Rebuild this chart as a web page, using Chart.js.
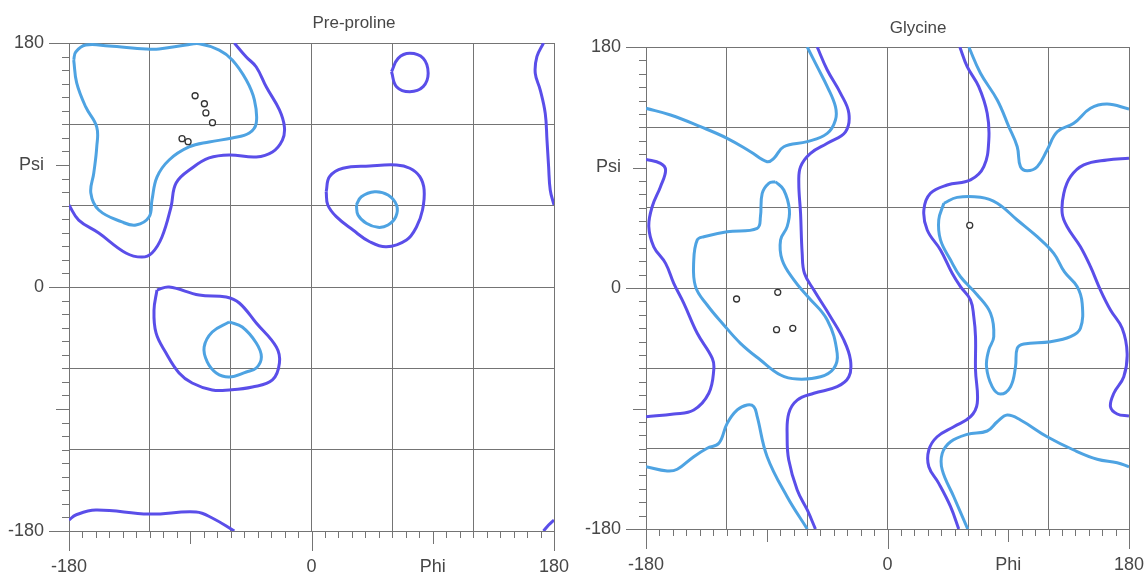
<!DOCTYPE html>
<html>
<head>
<meta charset="utf-8">
<script src="https://cdn.jsdelivr.net/npm/chart.js@4/dist/chart.umd.min.js"></script>
<style>
  body { margin: 0; background: #fff; }
  #wrap { display: flex; width: 1145px; height: 572px; }
  .panel { position: relative; height: 572px; }
</style>
</head>
<body>
<div id="wrap">
  <div class="panel" style="width:572px"><canvas id="preChart"></canvas></div>
  <div class="panel" style="width:573px"><canvas id="glyChart"></canvas></div>
</div>
<script>
// Axis labels (phi / psi)
const labelValues = [-180, 0, 90, 180];
const xLabelText = ["-180", "0", "Phi", "180"];
const yLabelText = ["-180", "0", "Psi", "180"];

// Colours
const outerColor = "#5a4ee9";
const innerColor = "#4ea3e2";
const gridColor = "#747474";
const textColor = "#474747";

// ---- Pre-proline contours, [phi, psi] ----
const preInnerBeta = [[-176.5,167.5],[-175,173.4],[-167.6,178.5],[-150.4,177.8],[-122.9,175.6],[-113.2,175.6],[-93.1,178.5],[-83.4,179.5],[-68.5,174.8],[-58.8,167.5],[-48.4,152.7],[-42.4,138],[-41,121],[-46.2,113.6],[-58.8,109.9],[-76,107],[-90.9,103.3],[-105.7,93.7],[-114.7,81.1],[-118.4,64.2],[-120.6,51.6],[-130.3,45.7],[-140.7,48],[-157.9,56.8],[-163.8,69.3],[-161.6,84.1],[-159.4,103.3],[-159.4,118],[-167.6,132.8],[-174.3,150.5],[-176.5,167.5]];
const preOuterBeta = [[-180,60.5],[-172.8,49.4],[-157.9,39.8],[-137.8,25.1],[-125.9,22.1],[-118.4,25.1],[-111,36.9],[-104.3,59],[-100.5,76.7],[-88.6,87.8],[-76,95.2],[-61.1,97.4],[-41,95.9],[-29,99.6],[-21.6,108.4],[-20.1,118],[-23.8,130.6],[-33.5,147.5],[-41,162.3],[-48.4,169.7],[-57.3,180]];
const preOuterBottom = [[-180,-171.9],[-175,-168.2],[-160.1,-164.5],[-120.6,-167.5],[-85.6,-166],[-73.7,-170.4],[-57.3,-180]];
const preOuterAlpha = [[-114.7,-2.2],[-105.7,0],[-83.4,-5.9],[-63.3,-7.4],[-53.6,-11.8],[-41,-26.6],[-26.1,-44.3],[-23.8,-56.1],[-29,-68.6],[-43.9,-73.8],[-61.1,-76],[-73.7,-76],[-88.6,-70.8],[-98.3,-63.4],[-108,-48.7],[-115.4,-33.9],[-116.9,-17],[-114.7,-2.2]];
const preInnerAlpha = [[-61.1,-25.8],[-51.4,-29.5],[-41,-41.3],[-37.2,-51.6],[-41,-59.8],[-48.4,-62.7],[-61.1,-66.4],[-70.7,-63.4],[-77.4,-55.3],[-79.7,-44.3],[-73.7,-33.2],[-61.1,-25.8]];
const preOuterLeft = [[10.9,70.3],[13.4,81.4],[23.3,87.6],[43.2,89.3],[63.1,90],[73,87.6],[80.4,81.4],[83.6,71.6],[82.4,56.8],[78,44.5],[70.5,34.7],[55.6,29.7],[43.2,33.4],[30.8,42],[18.4,51.9],[12.1,60.5],[10.9,70.3]];
const preInnerLeft = [[33.3,60.5],[37,66.6],[46.9,70.3],[56.8,67.9],[63.1,60.5],[62.6,51.9],[56.8,45.7],[49.4,44],[40.7,47],[34.5,53.1],[33.3,60.5]];
const preOuterSmall = [[59.4,158.8],[64.3,168.7],[73,172.4],[82.9,168.7],[86.6,157.6],[82.9,147.8],[73,144.1],[63.1,147.8],[59.4,158.8]];
const preOuterEdgeTop = [[172.2,180],[167.3,169.9],[166.1,157.6],[169.8,145.3],[173.5,128.1],[174.8,108.4],[176,88.7],[177.2,71.6],[180,60.5]];
const preOuterEdgeBottom = [[172.2,-180],[176,-175.6],[180,-171.9]];
const prePhi = [-86.4, -79.5, -78.4, -73.5, -96.1, -91.6];
const prePsi = [141.1, 135.2, 128.4, 121.2, 109.4, 107.2];

// ---- Glycine contours, [phi, psi] ----
const glyInnerTopLeft = [[-180,134.2],[-161.7,129.2],[-139.4,120.5],[-119.5,111.8],[-102.1,101.8],[-89.7,94.3],[-84.7,96.9],[-77.3,105.5],[-59.8,109.3],[-44.9,115.5],[-38.8,125.5],[-38.8,135.4],[-44.9,150.4],[-52.4,165.3],[-59.8,180]];
const glyInnerBottomLeft = [[-59.8,-180],[-74.8,-155.9],[-89.7,-126],[-97.1,-96.1],[-99.6,-88.7],[-104.6,-87.4],[-112,-91.1],[-119.5,-101.1],[-125.7,-116],[-134.4,-119.7],[-144.4,-126],[-156.7,-135.4],[-164.2,-136.7],[-180,-133.5]];
const glyInnerAlpha = [[-83.5,79.4],[-77.3,73.2],[-73.1,58.3],[-74.8,45.8],[-79.7,35.9],[-78.5,20.9],[-69.8,6],[-59.8,-6],[-44.9,-23.9],[-37.5,-48.8],[-40,-60],[-49.9,-66.3],[-67.3,-68],[-79.7,-65],[-94.7,-53.8],[-109.6,-41.3],[-122,-27.6],[-134.4,-12.7],[-143.1,1],[-144.4,20.9],[-141.8,35.9],[-136.9,38.3],[-119.5,42],[-97.1,44.6],[-94.7,53.3],[-93.4,70.7],[-88.5,78.2],[-83.5,79.4]];
const glyOuterLeft = [[-180,96.1],[-169.2,93.1],[-165.4,88.1],[-169.2,75.7],[-175.4,60.7],[-177.9,45.8],[-174.2,30.8],[-165.4,18.4],[-159.3,3.5],[-151.8,-11.4],[-141.8,-33.8],[-130.6,-52.5],[-129.5,-61.2],[-133.2,-78.6],[-144.4,-91.1],[-159.3,-94.1],[-180,-96.1]];
const glyOuterMid = [[-52.4,180],[-44.9,162.8],[-35,145.4],[-28.8,130.5],[-31.3,116.7],[-44.9,108.1],[-57.4,100.6],[-64.8,90.6],[-66.1,78.2],[-64.8,55.8],[-63.6,25.9],[-61.9,11],[-54.9,-1.5],[-42.5,-21.4],[-32.6,-38.8],[-27.6,-53.8],[-28.8,-66.3],[-37.5,-73.7],[-54.9,-78.6],[-67.3,-83.7],[-73.6,-93.6],[-74.8,-111.1],[-73.6,-128.5],[-67.3,-150.9],[-59.8,-165.8],[-53.7,-180]];
const glyOuterRightMid = [[53.9,180],[59.4,165.3],[68,150.4],[74.3,130.5],[75.5,110.5],[71.8,90.6],[61.9,80.7],[44.5,76.9],[32,70.7],[27.1,58.3],[29.6,43.3],[39.5,28.4],[48.2,11],[54.4,1],[61.9,-9],[64.3,-21.4],[65.6,-36.4],[65.6,-61.2],[66.9,-86.1],[61.9,-96.1],[49.4,-103.6],[37,-111.1],[30.8,-121],[30.8,-133.5],[38.2,-145.9],[47,-163.3],[53.1,-180]];
const glyInnerTopRight = [[60.6,180],[69.3,160.4],[81.8,140.4],[90.4,120.5],[96.7,105.5],[99.1,90.6],[104.1,87.6],[111.6,90.6],[119,103.1],[126.5,116.7],[138.8,123],[151.3,134.2],[163.7,137.4],[180,133.7]];
const glyInnerBottomRight = [[59.8,-180],[49.4,-155.9],[40.8,-135.9],[40.8,-123.5],[47,-114.8],[59.4,-109.3],[74.3,-106.8],[81.8,-99.9],[89.2,-94.9],[99.1,-98.6],[119,-111.1],[138.8,-121],[156.3,-127.9],[171.2,-130.5],[180,-133.5]];
const glyInnerLeftHand = [[42,63.3],[51.9,67.7],[69.3,67.7],[81.8,63.3],[96.7,50.8],[111.6,38.3],[123.9,25.9],[131.9,12],[141.4,1],[145.1,-11.4],[143.8,-30.1],[136.4,-36.4],[121.5,-40.1],[101.6,-41.8],[96.7,-45],[95.4,-58.8],[91.7,-73.7],[84.2,-79.2],[78,-73.7],[73.8,-58.8],[75.5,-46.3],[79.2,-36.4],[76.8,-18.9],[66.9,-5.2],[54.4,8.4],[47,20.9],[39.5,35.9],[38.2,50.8],[42,63.3]];
const glyOuterRight = [[180,96.9],[163.7,95.6],[146.3,91.9],[136.4,83.1],[131.4,70.7],[130.2,55.8],[133.9,45.8],[143.8,30.8],[151.3,15.9],[158.7,-1.5],[166.2,-16.4],[174.9,-30.1],[178.6,-48.8],[176.1,-66.3],[168.7,-78.6],[166.2,-88.7],[171.2,-94.1],[180,-95.6]];
const glyPhi = [-112.5, -81.8, -82.7, -70.6, 61.3];
const glyPsi = [-8.2, -3.2, -31.1, -30.1, 46.8];

function toXY(pairs) {
  return pairs.map(p => ({ x: p[0], y: p[1] }));
}

function contour(pairs, color) {
  return {
    data: toXY(pairs),
    showLine: true,
    borderColor: color,
    borderWidth: 3,
    pointRadius: 0,
    tension: 0.4,
    fill: false,
  };
}

function residues(phi, psi) {
  return {
    data: phi.map((v, i) => ({ x: v, y: psi[i] })),
    showLine: false,
    pointRadius: 3,
    pointBorderWidth: 1.3,
    pointBorderColor: "#333",
    pointBackgroundColor: "#fff",
  };
}

function tickLen(v) {
  if (v === -180 || v === 0 || v === 180) return 20;
  if (v === 90 || v === -90) return 13;
  return 7;
}

// draws the small tick marks and the panel title
const ramaPlugin = {
  id: "rama",
  afterDraw(chart, args, opts) {
    const ctx = chart.ctx;
    const xs = chart.scales.x;
    const ys = chart.scales.y;
    const area = chart.chartArea;
    ctx.save();
    ctx.strokeStyle = gridColor;
    ctx.lineWidth = 1;
    for (let v = -180; v <= 180; v += 10) {
      const len = tickLen(v);
      const px = Math.round(xs.getPixelForValue(v)) + 0.5;
      ctx.beginPath();
      ctx.moveTo(px, area.bottom);
      ctx.lineTo(px, area.bottom + len);
      ctx.stroke();
      const py = Math.round(ys.getPixelForValue(v)) + 0.5;
      ctx.beginPath();
      ctx.moveTo(area.left, py);
      ctx.lineTo(area.left - len, py);
      ctx.stroke();
    }
    ctx.fillStyle = textColor;
    ctx.font = '17px "Liberation Sans", Arial, sans-serif';
    ctx.textAlign = "center";
    ctx.textBaseline = "middle";
    ctx.fillText(opts.text, opts.x, opts.y);
    ctx.restore();
  },
};

function makeScale(labels, fit, isX) {
  return {
    type: "linear",
    min: -180,
    max: 180,
    afterBuildTicks: (scale) => {
      const t = [];
      for (let v = -180; v <= 180; v += 10) t.push({ value: v });
      scale.ticks = t;
    },
    afterFit: (scale) => {
      if (isX) scale.height = fit;
      else scale.width = fit;
      // keep the plot box where the layout padding puts it
      scale.paddingLeft = 0;
      scale.paddingRight = 0;
      scale.paddingTop = 0;
      scale.paddingBottom = 0;
    },
    grid: {
      color: (c) => (c.tick && c.tick.value % 60 === 0 ? gridColor : "rgba(0,0,0,0)"),
      lineWidth: 1,
      drawTicks: true,
      tickLength: 20,
      tickColor: "rgba(0,0,0,0)",
    },
    border: { display: true, color: gridColor },
    ticks: {
      autoSkip: false,
      maxRotation: 0,
      padding: isX ? 5 : 5,
      color: textColor,
      font: { size: 18, family: '"Liberation Sans", Arial, sans-serif' },
      callback: (value) => {
        const i = labelValues.indexOf(value);
        return i >= 0 ? labels[i] : "";
      },
    },
  };
}

function makeChart(id, datasets, title, pad, yWidth, xHeight) {
  new Chart(document.getElementById(id), {
    type: "scatter",
    data: { datasets: datasets },
    options: {
      responsive: true,
      maintainAspectRatio: false,
      animation: false,
      layout: { padding: pad },
      plugins: {
        legend: { display: false },
        tooltip: { enabled: false },
        rama: title,
      },
      scales: {
        x: makeScale(xLabelText, xHeight, true),
        y: makeScale(yLabelText, yWidth, false),
      },
    },
    plugins: [ramaPlugin],
  });
}

makeChart("preChart", [
  residues(prePhi, prePsi),
  contour(preInnerBeta, innerColor),
  contour(preInnerAlpha, innerColor),
  contour(preInnerLeft, innerColor),
  contour(preOuterBeta, outerColor),
  contour(preOuterBottom, outerColor),
  contour(preOuterAlpha, outerColor),
  contour(preOuterLeft, outerColor),
  contour(preOuterSmall, outerColor),
  contour(preOuterEdgeTop, outerColor),
  contour(preOuterEdgeBottom, outerColor),
], { text: "Pre-proline", x: 354, y: 23 }, { left: 0, top: 43, right: 18, bottom: 0 }, 69, 41);

makeChart("glyChart", [
  residues(glyPhi, glyPsi),
  contour(glyInnerTopLeft, innerColor),
  contour(glyInnerBottomLeft, innerColor),
  contour(glyInnerAlpha, innerColor),
  contour(glyInnerTopRight, innerColor),
  contour(glyInnerBottomRight, innerColor),
  contour(glyInnerLeftHand, innerColor),
  contour(glyOuterLeft, outerColor),
  contour(glyOuterMid, outerColor),
  contour(glyOuterRightMid, outerColor),
  contour(glyOuterRight, outerColor),
], { text: "Glycine", x: 346, y: 28 }, { left: 0, top: 47, right: 16, bottom: 0 }, 74, 43);
</script>
</body>
</html>
